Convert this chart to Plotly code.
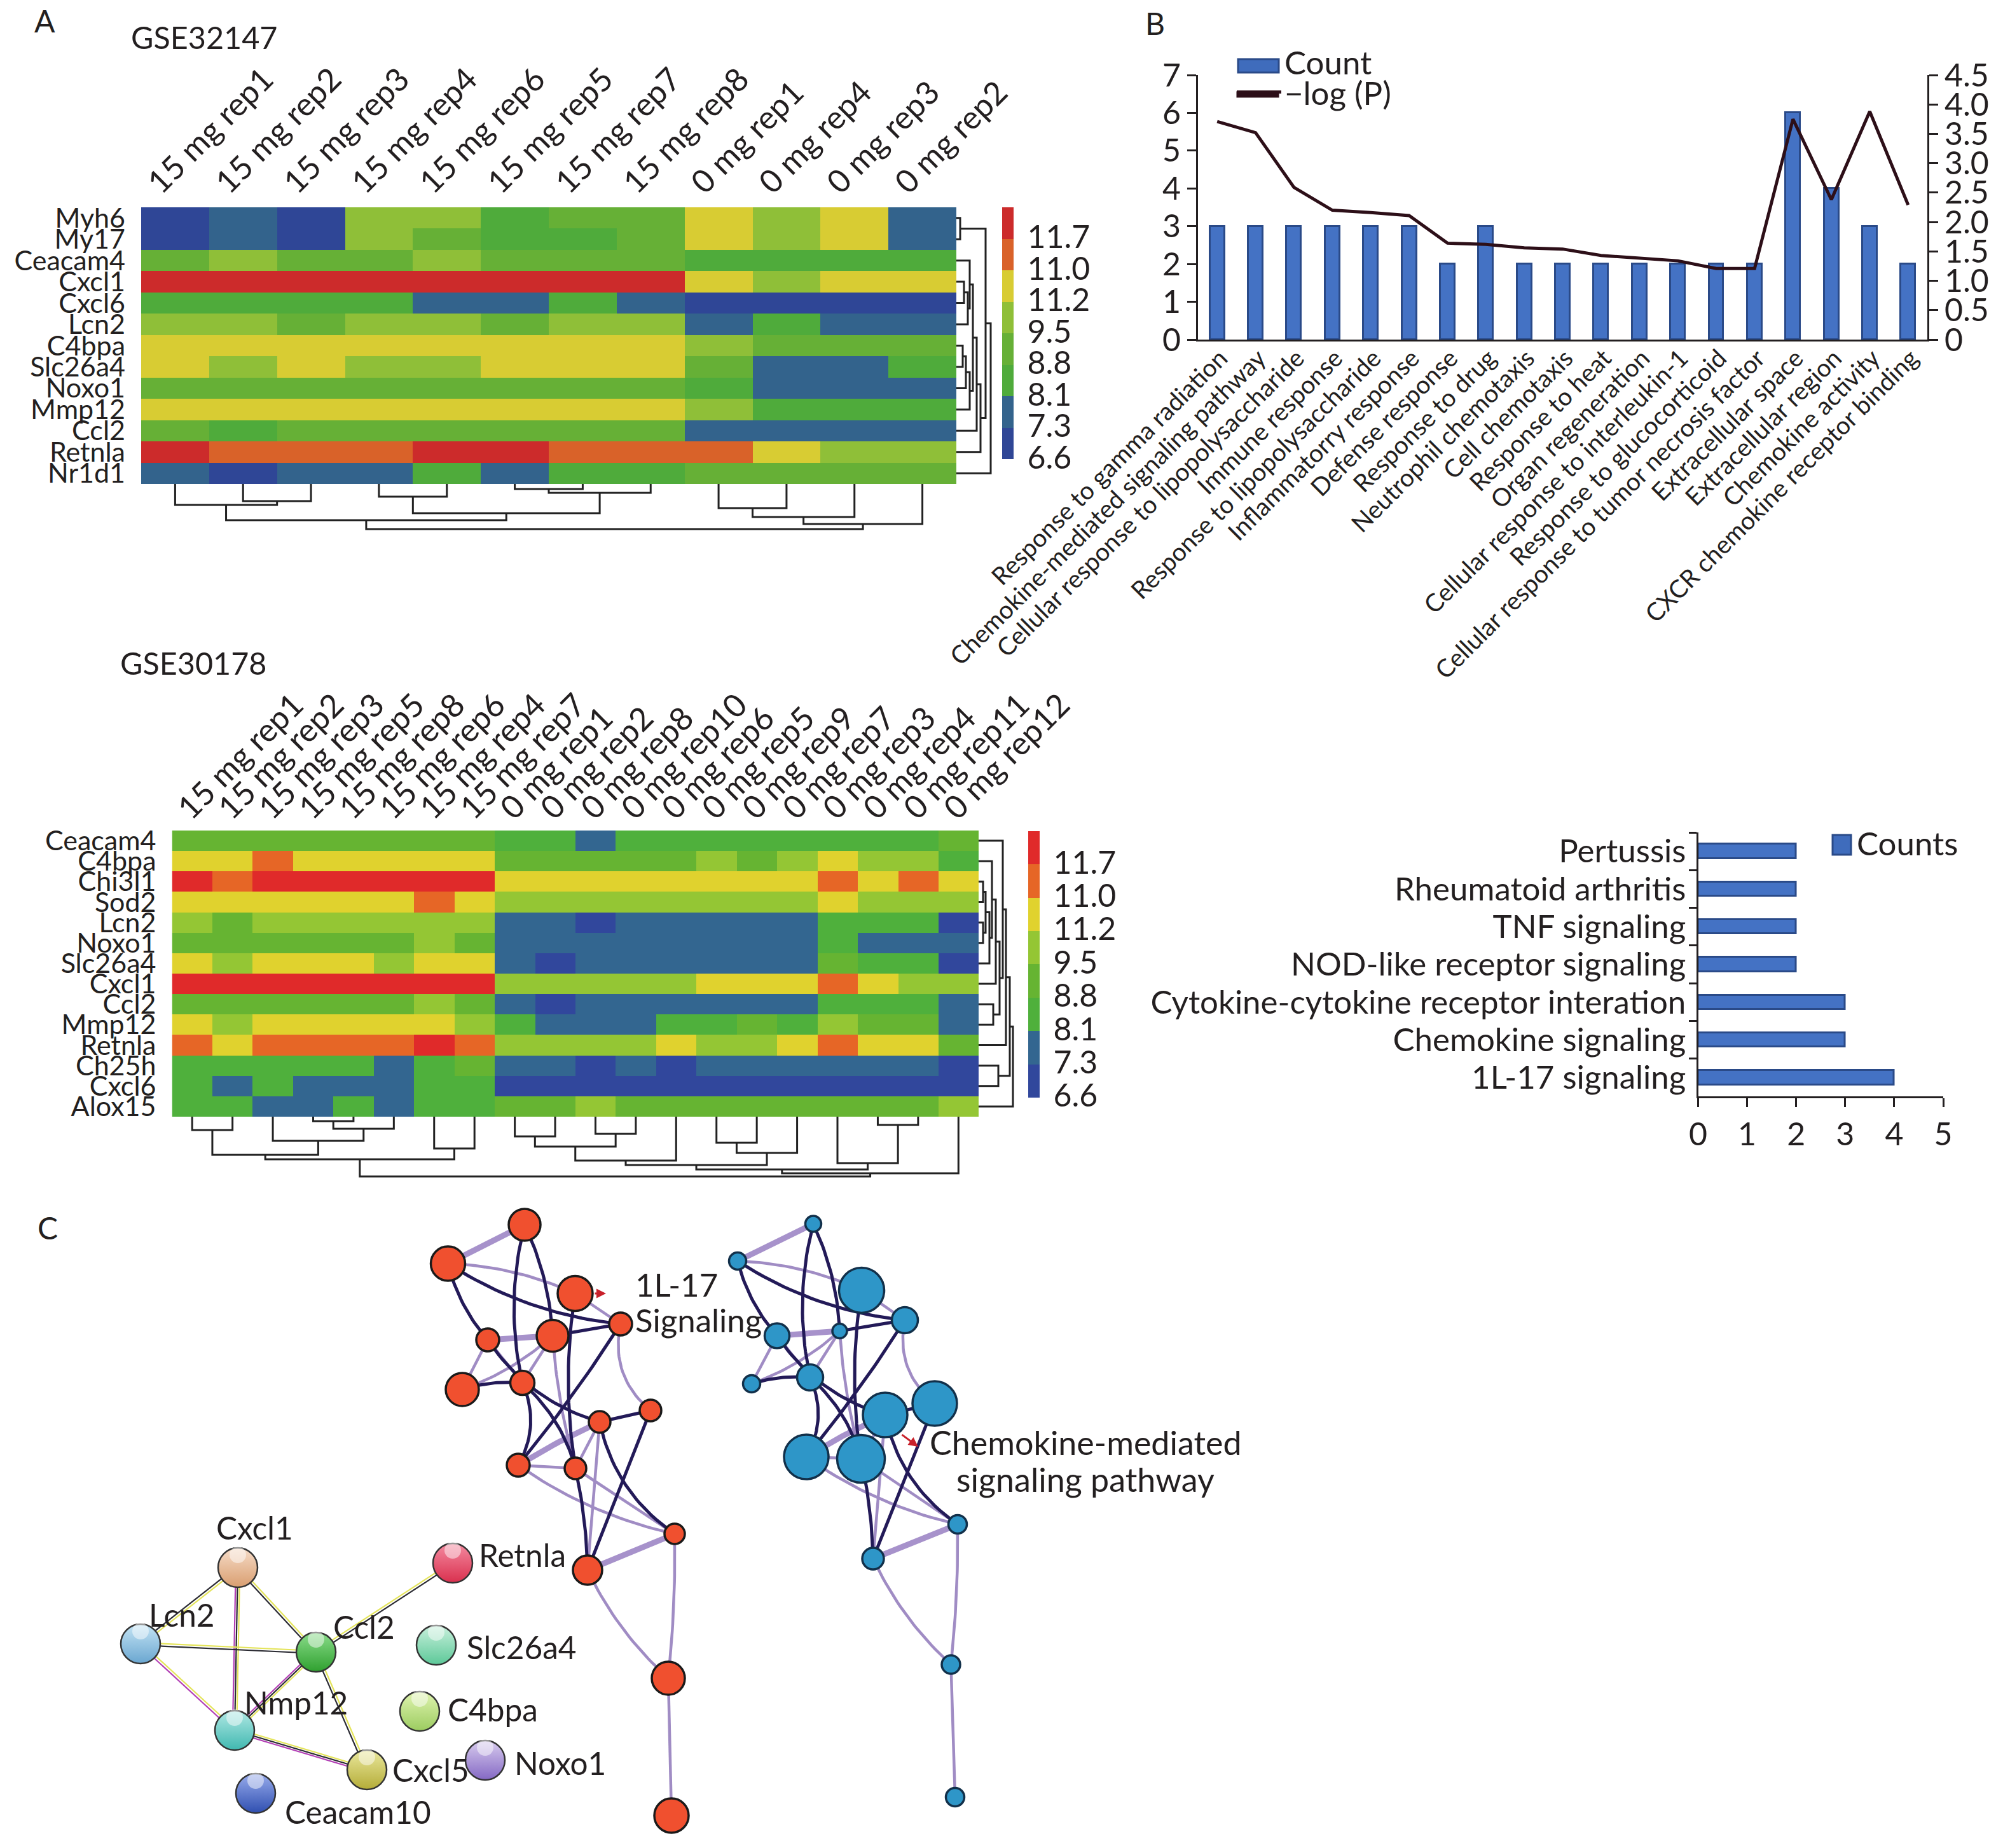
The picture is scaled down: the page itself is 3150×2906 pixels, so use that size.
import plotly.graph_objects as go

W, H = 3150, 2906
FONT = "Lato"
INK = "#231f20"

# ---------- Panel A data ----------
bands = ["6.6", "7.3", "8.1", "8.8", "9.5", "11.2", "11.0", "11.7"]
colors_a = ["#2f4696", "#33638c", "#4fab3b", "#66b036", "#8fbf38", "#d8cc33", "#d96229", "#cc2b2b"]
colors_b = ["#31479c", "#336690", "#4fb03c", "#66b432", "#94c634", "#e0d22e", "#e66626", "#e02a2a"]

cols_a = ["15 mg rep1", "15 mg rep2", "15 mg rep3", "15 mg rep4", "15 mg rep6", "15 mg rep5", "15 mg rep7",
          "15 mg rep8", "0 mg rep1", "0 mg rep4", "0 mg rep3", "0 mg rep2"]
rows_a = ["Myh6", "My17", "Ceacam4", "Cxcl1", "Cxcl6", "Lcn2", "C4bpa", "Slc26a4", "Noxo1", "Mmp12", "Ccl2",
          "Retnla", "Nr1d1"]
z_a = [
    [0, 1, 0, 4, 4, 2, 3, 3, 5, 4, 5, 1],
    [0, 1, 0, 4, 3, 2, 2, 3, 5, 4, 5, 1],
    [3, 4, 3, 3, 4, 3, 3, 3, 2, 2, 2, 2],
    [7, 7, 7, 7, 7, 7, 7, 7, 5, 4, 5, 5],
    [2, 2, 2, 2, 1, 1, 2, 1, 0, 0, 0, 0],
    [4, 4, 3, 4, 4, 3, 4, 4, 1, 2, 1, 1],
    [5, 5, 5, 5, 5, 5, 5, 5, 4, 3, 3, 3],
    [5, 4, 5, 4, 4, 5, 5, 5, 3, 1, 1, 2],
    [3, 3, 3, 3, 3, 3, 3, 3, 2, 1, 1, 1],
    [5, 5, 5, 5, 5, 5, 5, 5, 4, 2, 2, 2],
    [3, 2, 3, 3, 3, 3, 3, 3, 1, 1, 1, 1],
    [7, 6, 6, 6, 7, 7, 6, 6, 6, 5, 4, 4],
    [1, 0, 1, 1, 2, 1, 2, 2, 3, 3, 3, 3],
]
cols_b = ["15 mg rep1", "15 mg rep2", "15 mg rep3", "15 mg rep5", "15 mg rep8", "15 mg rep6", "15 mg rep4",
          "15 mg rep7", "0 mg rep1", "0 mg rep2", "0 mg rep8", "0 mg rep10", "0 mg rep6", "0 mg rep5", "0 mg rep9",
          "0 mg rep7", "0 mg rep3", "0 mg rep4", "0 mg rep11", "0 mg rep12"]
rows_b = ["Ceacam4", "C4bpa", "Chi3l1", "Sod2", "Lcn2", "Noxo1", "Slc26a4", "Cxcl1", "Ccl2", "Mmp12", "Retnla",
          "Ch25h", "Cxcl6", "Alox15"]
z_b = [
    [3, 3, 3, 3, 3, 3, 3, 3, 2, 2, 1, 2, 2, 2, 2, 2, 2, 2, 2, 3],
    [5, 5, 6, 5, 5, 5, 5, 5, 3, 3, 3, 3, 3, 4, 3, 4, 5, 4, 4, 2],
    [7, 6, 7, 7, 7, 7, 7, 7, 5, 5, 5, 5, 5, 5, 5, 5, 6, 5, 6, 5],
    [5, 5, 5, 5, 5, 5, 6, 5, 4, 4, 4, 4, 4, 4, 4, 4, 5, 4, 4, 4],
    [4, 3, 4, 4, 4, 4, 4, 4, 1, 1, 0, 1, 1, 1, 1, 1, 2, 2, 2, 0],
    [3, 3, 3, 3, 3, 3, 4, 3, 1, 1, 1, 1, 1, 1, 1, 1, 2, 1, 1, 1],
    [5, 4, 5, 5, 5, 4, 5, 5, 1, 0, 1, 1, 1, 1, 1, 1, 3, 2, 2, 0],
    [7, 7, 7, 7, 7, 7, 7, 7, 4, 4, 4, 4, 4, 5, 5, 5, 6, 5, 4, 4],
    [3, 3, 3, 3, 3, 3, 4, 3, 1, 0, 1, 1, 1, 1, 1, 1, 2, 2, 2, 1],
    [5, 4, 5, 5, 5, 5, 5, 4, 2, 1, 1, 1, 2, 2, 3, 2, 4, 3, 3, 1],
    [6, 5, 6, 6, 6, 6, 7, 6, 4, 4, 4, 4, 5, 4, 4, 5, 6, 5, 5, 3],
    [2, 2, 2, 2, 2, 1, 2, 3, 1, 1, 0, 1, 0, 1, 1, 1, 1, 1, 1, 0],
    [2, 1, 2, 1, 1, 1, 2, 2, 0, 0, 0, 0, 0, 0, 0, 0, 0, 0, 0, 0],
    [2, 2, 1, 1, 2, 1, 2, 2, 3, 3, 4, 3, 3, 3, 3, 3, 3, 3, 3, 4],
]
# Dendrograms: (left, right, height); indices >= n_leaves refer to earlier merges
link_cols_a = [(1, 2, 27), (0, 12, 33), (3, 4, 20), (5, 6, 8), (15, 7, 14), (14, 16, 46), (13, 17, 57),
               (8, 9, 38), (19, 10, 52), (20, 11, 63), (18, 21, 71)]
link_rows_a = [(0, 1, 6), (3, 4, 12), (14, 5, 18), (2, 15, 21), (6, 7, 10), (17, 8, 15), (18, 9, 21), (16, 19, 26),
               (20, 10, 32), (21, 11, 38), (13, 22, 46), (23, 12, 54)]
link_cols_b = [(0, 1, 21), (3, 4, 7), (21, 5, 19), (2, 22, 38), (20, 23, 60), (6, 7, 50), (24, 25, 67),
               (8, 9, 31), (10, 11, 27), (27, 28, 47), (29, 12, 69), (13, 14, 41), (31, 15, 57), (30, 32, 76),
               (17, 18, 13), (16, 34, 73), (33, 35, 83), (36, 19, 89), (26, 37, 94)]
link_rows_b = [(2, 3, 7), (4, 5, 7), (14, 15, 11), (16, 6, 17), (1, 17, 21), (18, 7, 27), (8, 9, 23), (19, 20, 33),
               (0, 21, 38), (22, 10, 43), (11, 12, 31), (23, 24, 49), (25, 13, 54)]

# ---------- Panel B data ----------
terms = ["Response to gamma radiation", "Chemokine-mediated signaling pathway",
         "Cellular response to lipopolysaccharide", "Immune response", "Response to lipopolysaccharide",
         "Inflammatorry response", "Defense response", "Response to drug", "Neutrophil chemotaxis",
         "Cell chemotaxis", "Response to heat", "Organ regeneration", "Cellular response to interleukin-1",
         "Response to glucocorticoid", "Cellular response to tumor necrosis factor", "Extracellular space",
         "Extracellular region", "Chemokine activity", "CXCR chemokine receptor binding"]
count = [3, 3, 3, 3, 3, 3, 2, 3, 2, 2, 2, 2, 2, 2, 2, 6, 4, 3, 2]
neglogp = [3.71, 3.52, 2.59, 2.20, 2.16, 2.11, 1.64, 1.62, 1.56, 1.54, 1.43, 1.38, 1.34, 1.21, 1.21, 3.75, 2.38,
           3.88, 2.29]
pathways = ["1L-17 signaling", "Chemokine signaling", "Cytokine-cytokine receptor interation",
            "NOD-like receptor signaling", "TNF signaling", "Rheumatoid arthritis", "Pertussis"]
path_counts = [4, 3, 3, 2, 2, 2, 2]

# ---------- Panel C data ----------
red_x = [825, 704.5, 904.5, 976, 767, 869, 727, 821.5, 1023, 943, 815, 905, 1061, 924, 1051, 1056]
red_y = [1926, 1987, 2034, 2082, 2107, 2100.5, 2185, 2174.5, 2218, 2236, 2304, 2309, 2412, 2469, 2639, 2855]
red_size = [50, 54, 55, 36, 36, 50, 52, 38, 34, 34, 36, 34, 32, 46, 52, 54]
blue_x = [1279, 1160, 1355, 1423, 1222, 1320.5, 1182, 1274, 1470, 1392, 1268, 1354, 1506, 1373, 1495.5, 1502]
blue_y = [1924.5, 1983, 2029, 2076, 2100.5, 2093, 2176, 2166, 2207, 2225, 2291, 2294, 2397, 2451, 2617.5, 2826]
blue_size = [25, 27, 71, 41, 39, 23, 27, 41, 70, 70, 70, 75, 29, 34, 29, 29]
edges_dark = [(0, 7, .12), (0, 5, -.1), (1, 4, .12), (1, 3, .12), (2, 11, .08), (3, 5, 0), (3, 10, -.03),
              (4, 9, .18), (6, 7, -.1), (7, 10, -.25), (7, 11, -.15), (8, 9, 0), (8, 13, 0), (9, 12, .2),
              (11, 13, -.05)]
edges_light = [(1, 2, -.1), (2, 3, 0), (4, 6, 0), (4, 7, 0), (5, 6, -.1), (5, 7, 0), (5, 11, .05),
               (3, 8, .3), (9, 11, 0), (10, 11, 0), (10, 12, .1), (11, 12, 0),
               (9, 13, 0), (13, 14, .1), (12, 14, -.03), (14, 15, 0)]
edges_thick = [(0, 1, 0), (4, 5, 0), (9, 10, .03), (13, 12, .01)]
string_names = ["Cxcl1", "Retnla", "Lcn2", "Ccl2", "Slc26a4", "C4bpa", "Nmp12", "Cxcl5", "Noxo1", "Ceacam10"]
string_x = [374, 712, 221, 497, 686, 660, 369, 577, 763, 402]
string_y = [2465, 2458, 2585, 2598, 2587, 2691, 2721, 2783, 2768, 2820]
string_color = ["#d99e70", "#d9304e", "#6aa6d0", "#2fa02f", "#5cc898", "#9ccc60", "#40b8b0", "#b4ac38", "#8468c4",
                "#2f4fb0"]
string_pale = ["#f6dcc8", "#f48aa0", "#c4e4f4", "#8adc8a", "#c8f0dc", "#e0f4b0", "#b0e8e4", "#eae89c", "#d8ccee",
               "#98acec"]
string_label_x = [400, 751, 286, 572, 732, 702, 465, 615, 807, 446]
string_label_y = [2402, 2445, 2539, 2558, 2590, 2688, 2677, 2783, 2772, 2849]
string_label_anchor = ["center", "left", "center", "center", "left", "left", "center", "left", "left", "left"]
string_edges = [(0, 2, "yd"), (0, 3, "yd"), (0, 6, "ydm"), (2, 3, "yd"), (2, 6, "ym"), (3, 6, "ydm"), (3, 7, "yd"),
                (6, 7, "ydm"), (3, 1, "yd")]
strand_color = {"y": "#e4e45a", "d": "#2b2b33", "m": "#b23fb5"}


def fx(px):
    return px / W


def fy(py):
    return 1 - py / H


fig = go.Figure()


def stepped(cs):
    n = len(cs)
    out = []
    for i, c in enumerate(cs):
        out += [[i / n, c], [(i + 1) / n, c]]
    return out


def dendro_segments(link, n_leaves):
    """Turn a merge table into line coordinates (leaf position, height)."""
    pos = {i: (float(i), 0.0) for i in range(n_leaves)}
    a, b = [], []
    for k, (l, r, h) in enumerate(link):
        pl, hl = pos[l]
        pr, hr = pos[r]
        a += [pl, pl, pr, pr, None]
        b += [hl, h, h, hr, None]
        pos[n_leaves + k] = ((pl + pr) / 2, h)
    return a, b


def heat(z, cols, rows, cs, xn, yn, bar_px):
    fig.add_trace(go.Heatmap(
        z=z, x=list(range(len(cols))), y=list(range(len(rows))), xaxis=xn, yaxis=yn,
        colorscale=stepped(cs), zmin=-0.5, zmax=7.5, hoverongaps=False,
        colorbar=dict(x=fx(bar_px[0]), xanchor="left", y=fy(bar_px[1]), yanchor="top", len=bar_px[2],
                      lenmode="pixels", thickness=18, thicknessmode="pixels", xpad=0, ypad=0, outlinewidth=0,
                      tickvals=[i - 0.44 for i in range(8)], ticktext=bands, ticks="outside", ticklen=12,
                      tickcolor="rgba(0,0,0,0)", tickwidth=1,
                      tickfont=dict(family=FONT, size=50, color=INK))))


heat(z_a, cols_a, rows_a, colors_a, "x", "y", (1576, 326, 396))
heat(z_b, cols_b, rows_b, colors_b, "x2", "y2", (1617, 1307, 419))

for link, n, xn, yn, horizontal in [
    (link_cols_a, len(cols_a), "x", "y3", True), (link_rows_a, len(rows_a), "x3", "y", False),
    (link_cols_b, len(cols_b), "x2", "y4", True), (link_rows_b, len(rows_b), "x4", "y2", False)]:
    p, h = dendro_segments(link, n)
    fig.add_trace(go.Scatter(x=p if horizontal else h, y=h if horizontal else p, xaxis=xn, yaxis=yn, mode="lines",
                             line=dict(color="#222222", width=3), showlegend=False, hoverinfo="skip"))

# Bars + line
fig.add_trace(go.Bar(x=list(range(len(terms))), y=count, xaxis="x5", yaxis="y5", width=0.38, name="Count",
                     marker=dict(color="#4472c4", line=dict(color="#2a4a88", width=3)), showlegend=False))
fig.add_trace(go.Scatter(x=list(range(len(terms))), y=neglogp, xaxis="x5", yaxis="y6", mode="lines", name="\u2212log (P)",
                         line=dict(color="#2d0f18", width=5), legend="legend2"))
fig.add_trace(go.Scatter(x=[None], y=[None], xaxis="x5", yaxis="y5", mode="lines", name="Count",
                         line=dict(color="rgba(63,108,188,0)", width=1), legend="legend"))
fig.add_trace(go.Bar(x=path_counts, y=pathways, orientation="h", xaxis="x6", yaxis="y7", width=0.38, name="Counts",
                     marker=dict(color="#4472c4", line=dict(color="#2a4a88", width=3)), showlegend=False))
fig.add_trace(go.Scatter(x=[None], y=[None], xaxis="x6", yaxis="y7", mode="lines", name="Counts",
                         line=dict(color="rgba(63,108,188,0)", width=1), legend="legend3"))


# Networks
def curve(x0, y0, x1, y1, c, steps=24):
    mx, my = (x0 + x1) / 2, (y0 + y1) / 2
    cx, cy = mx - c * (y1 - y0), my + c * (x1 - x0)
    xs, ys = [], []
    for s in range(steps + 1):
        t = s / steps
        xs.append((1 - t) ** 2 * x0 + 2 * t * (1 - t) * cx + t * t * x1)
        ys.append((1 - t) ** 2 * y0 + 2 * t * (1 - t) * cy + t * t * y1)
    return xs + [None], ys + [None]


def network(nx, ny, size, color, outline):
    for edges, col, w in [(edges_thick, "#a792cb", 9), (edges_light, "#a08cc4", 4.5), (edges_dark, "#231a58", 5)]:
        xs, ys = [], []
        for i, j, c in edges:
            a, b = curve(nx[i], ny[i], nx[j], ny[j], c)
            xs += a
            ys += b
        fig.add_trace(go.Scatter(x=xs, y=ys, xaxis="x7", yaxis="y8", mode="lines", line=dict(color=col, width=w),
                                 showlegend=False, hoverinfo="skip"))
    fig.add_trace(go.Scatter(x=nx, y=ny, xaxis="x7", yaxis="y8", mode="markers", showlegend=False,
                             marker=dict(size=size, color=color, line=dict(color=outline, width=3.5), opacity=1)))


network(red_x, red_y, red_size, "#f0502f", "#1a1a1a")
network(blue_x, blue_y, blue_size, "#2e96c8", "#12304a")

off = {1: [0], 2: [-2, 2], 3: [-3.2, 0, 3.2]}
for i, j, kinds in string_edges:
    x0, y0, x1, y1 = string_x[i], string_y[i], string_x[j], string_y[j]
    L = ((x1 - x0) ** 2 + (y1 - y0) ** 2) ** .5
    for d, k in zip(off[len(kinds)], kinds):
        ox, oy = -(y1 - y0) / L * d, (x1 - x0) / L * d
        fig.add_trace(go.Scatter(x=[x0 + ox, x1 + ox], y=[y0 + oy, y1 + oy], xaxis="x7", yaxis="y8", mode="lines",
                                 line=dict(color=strand_color[k], width=2.2), showlegend=False, hoverinfo="skip"))
fig.add_trace(go.Scatter(x=string_x, y=string_y, xaxis="x7", yaxis="y8", mode="markers", showlegend=False,
                         text=string_names, hoverinfo="text",
                         marker=dict(size=62, color=string_pale, line=dict(color="#333333", width=2.5),
                                     gradient=dict(type="vertical", color=string_color))))
fig.add_trace(go.Scatter(x=string_x, y=[v - 20 for v in string_y], xaxis="x7", yaxis="y8", mode="markers",
                         showlegend=False, hoverinfo="skip",
                         marker=dict(size=[26] * 10, color="rgba(255,255,255,0.7)", line=dict(width=0))))

annos = []


def note(text, px, py, size=46, anchor="center"):
    annos.append(dict(text=text, x=px, y=py, xref="x7", yref="y8", showarrow=False, xanchor=anchor,
                      yanchor="middle", font=dict(family=FONT, size=size, color=INK)))


note("A", 70, 32, 48)
note("B", 1816, 36, 48)
note("C", 75, 1930, 48)
note("GSE32147", 321, 58, 48.5)
note("GSE30178", 304, 1042, 48.5)
note("1L-17", 997, 2019, 51, "left")
note("Signaling", 997, 2075, 51, "left")
note("Chemokine-mediated", 1707, 2268, 52)
note("signaling pathway", 1707, 2326, 52)
for n, px, py, an in zip(string_names, string_label_x, string_label_y, string_label_anchor):
    note(n, px, py, 49.5, an)
for x0, y0, x1, y1 in [(934, 2034, 953, 2034), (1417, 2255, 1444, 2275)]:
    annos.append(dict(x=x1, y=y1, ax=x0, ay=y0, xref="x7", yref="y8", axref="x7",
                      ayref="y8", showarrow=True, arrowhead=2, arrowsize=1, arrowwidth=3, arrowcolor="#c8202a",
                      text=""))

# Legend swatches as drawn in the original (wider and taller than Plotly's own keys)
swatches = [(1947, 93, 2011, 114, "#3f6cbc", "#2a4a88"), (2882, 1313, 2911, 1344, "#3f6cbc", "#2a4a88"),
            (1946, 145, 2010, 152, "#2d0f18", "#2d0f18")]
shapes = [dict(type="rect", xref="x7", yref="y8", x0=a, y0=b, x1=c, y1=d, fillcolor=f,
               line=dict(color=e, width=3)) for a, b, c, d, f, e in swatches]

hid = dict(visible=False, fixedrange=True)
tf = dict(family=FONT, size=43, color=INK)
axl = dict(showline=True, linecolor=INK, linewidth=3, ticks="outside", tickwidth=3, tickcolor=INK, ticklen=14,
           showgrid=False, zeroline=False, tickfont=dict(family=FONT, size=50, color=INK))


def top_ticks(labels, shift):
    return [i - shift for i in range(len(labels))]


leg = dict(xanchor="left", yanchor="middle", bgcolor="rgba(0,0,0,0)", font=dict(family=FONT, size=51, color=INK),
           itemclick=False, itemdoubleclick=False)

fig.update_layout(
    width=W, height=H, margin=dict(l=0, r=0, t=0, b=0, autoexpand=False), paper_bgcolor="white",
    plot_bgcolor="rgba(0,0,0,0)", shapes=shapes,
    font=dict(family=FONT, color=INK), annotations=annos, bargap=0,
    xaxis=dict(domain=[fx(222), fx(1504)], range=[-.5, 11.5], side="top", anchor="y", tickangle=-45, showgrid=False,
               tickmode="array", tickvals=top_ticks(cols_a, .37), ticktext=cols_a, ticks="", zeroline=False,
               tickfont=dict(family=FONT, size=50.5, color=INK), ticklabelstandoff=0),
    yaxis=dict(domain=[fy(761), fy(326)], range=[12.5, -.5], anchor="x", tickmode="array",
               tickvals=list(range(len(rows_a))), ticktext=rows_a, ticks="", showgrid=False, zeroline=False,
               tickfont=tf, ticklabelstandoff=24),
    xaxis2=dict(domain=[fx(270.5), fx(1539)], range=[-.5, 19.5], side="top", anchor="y2", tickangle=-45,
                showgrid=False, tickmode="array", tickvals=top_ticks(cols_b, .3), ticktext=cols_b, ticks="",
                zeroline=False, tickfont=dict(family=FONT, size=50.5, color=INK), ticklabelstandoff=-4),
    yaxis2=dict(domain=[fy(1756), fy(1306)], range=[13.5, -.5], anchor="x2", tickmode="array",
                tickvals=list(range(len(rows_b))), ticktext=rows_b, ticks="", showgrid=False, zeroline=False,
                tickfont=tf, ticklabelstandoff=24),
    yaxis3=dict(domain=[fy(843), fy(761)], range=[82, 0], anchor="x", **hid),
    xaxis3=dict(domain=[fx(1504), fx(1564)], range=[0, 60], anchor="y", **hid),
    yaxis4=dict(domain=[fy(1856), fy(1756)], range=[100, 0], anchor="x2", **hid),
    xaxis4=dict(domain=[fx(1539), fx(1599)], range=[0, 60], anchor="y2", **hid),
    xaxis5=dict(domain=[fx(1884), fx(3031)], range=[-.5, 18.5], anchor="y5", tickangle=-45, tickmode="array",
                tickvals=top_ticks(terms, -.08), ticktext=terms, ticks="", showline=True, linecolor=INK, linewidth=3,
                showgrid=False, zeroline=False, tickfont=dict(family=FONT, size=39, color=INK), ticklabelstandoff=-12),
    yaxis5=dict(domain=[fy(534), fy(118)], range=[0, 7], anchor="x5", dtick=1, **axl),
    yaxis6=dict(domain=[fy(534), fy(118)], range=[0, 4.5], anchor="x5", overlaying="y5", side="right",
                tickvals=[0, .5, 1, 1.5, 2, 2.5, 3, 3.5, 4, 4.5],
                ticktext=["0", "0.5", "1.0", "1.5", "2.0", "2.5", "3.0", "3.5", "4.0", "4.5"], **axl),
    xaxis6=dict(domain=[fx(2670.5), fx(3056)], range=[0, 5], anchor="y7", dtick=1, **axl),
    yaxis7=dict(domain=[fy(1724), fy(1309)], anchor="x6", type="category", categoryorder="array",
                categoryarray=pathways, showline=True, linecolor=INK, linewidth=3, ticks="outside", tickson="boundaries",
                tickmode="linear", tick0=0, dtick=1,
                tickwidth=3, tickcolor=INK, ticklen=12, showgrid=False, tickfont=dict(family=FONT, size=51, color=INK),
                ticklabelstandoff=6),
    xaxis7=dict(domain=[0, 1], range=[0, W], anchor="y8", **hid),
    yaxis8=dict(domain=[0, 1], range=[H, 0], anchor="x7", **hid),
    legend=dict(x=fx(1940), y=fy(97), itemwidth=70, **leg),
    legend2=dict(x=fx(1940), y=fy(145), itemwidth=70, **leg),
    legend3=dict(x=fx(2880), y=fy(1325), itemwidth=30, **leg),
)

fig.write_html("out.html", post_script="document.body.style.margin='0';", config=dict(displayModeBar=False))
